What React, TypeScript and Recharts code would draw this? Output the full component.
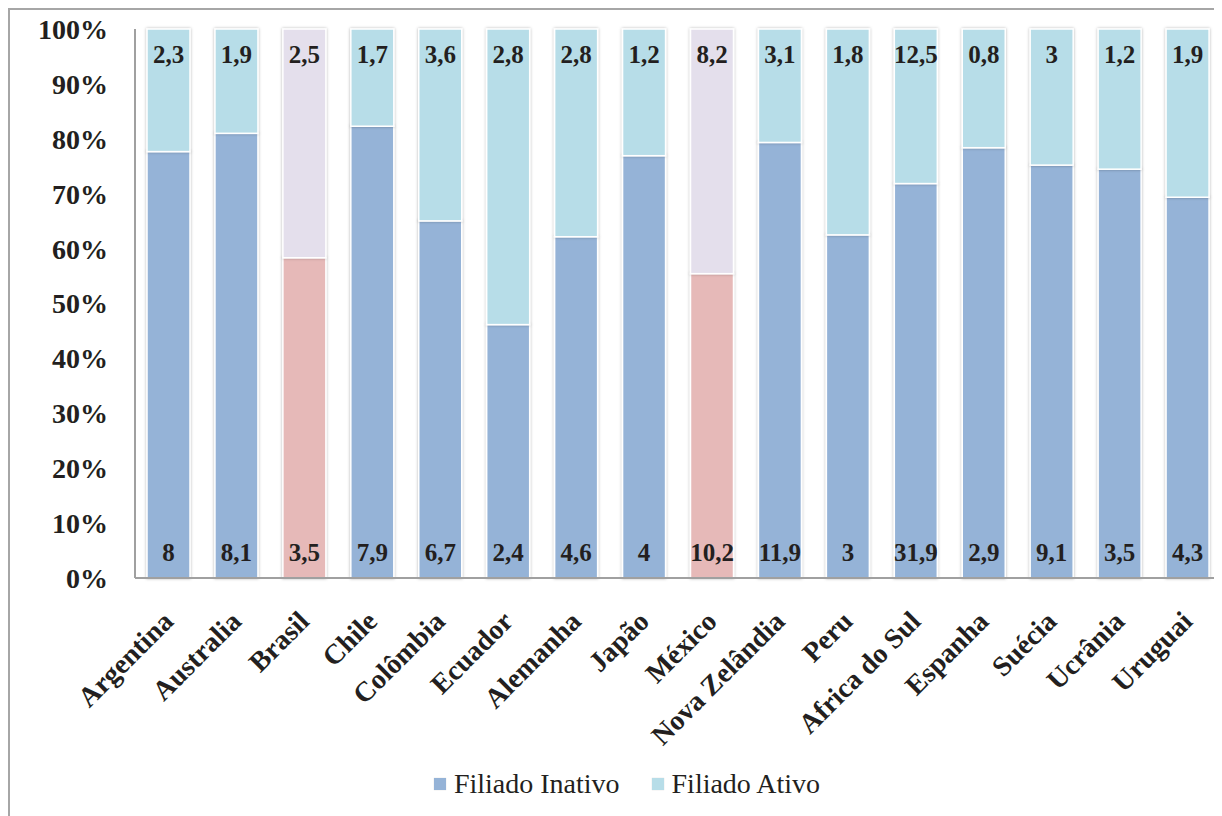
import React from 'react';
import { BarChart, Bar, XAxis, YAxis, Legend, LabelList } from 'recharts';

const categories = ['Argentina', 'Australia', 'Brasil', 'Chile', 'Colômbia', 'Ecuador', 'Alemanha', 'Japão', 'México', 'Nova Zelândia', 'Peru', 'Africa do Sul', 'Espanha', 'Suécia', 'Ucrânia', 'Uruguai'];
const filiadoInativo = [8, 8.1, 3.5, 7.9, 6.7, 2.4, 4.6, 4, 10.2, 11.9, 3, 31.9, 2.9, 9.1, 3.5, 4.3];
const filiadoAtivo = [2.3, 1.9, 2.5, 1.7, 3.6, 2.8, 2.8, 1.2, 8.2, 3.1, 1.8, 12.5, 0.8, 3, 1.2, 1.9];
const highlighted = ['Brasil', 'México'];
const yTicks = [0, 0.1, 0.2, 0.3, 0.4, 0.5, 0.6, 0.7, 0.8, 0.9, 1];

const data = categories.map((name, i) => ({ name, inativo: filiadoInativo[i], ativo: filiadoAtivo[i] }));

const C_INATIVO = '#95B3D7';
const C_ATIVO = '#B7DDE8';
const H_INATIVO = '#E6B9B8';
const H_ATIVO = '#E4DFEC';
const FONT = '"Liberation Serif", "Times New Roman", serif';
const TEXT = '#231f20';

const fmt = (v: number) => String(v).replace('.', ',');

const makeShape = (normal: string, hl: string) => (props: any) => {
  const { x, y, width, height, payload } = props;
  if (!height || height <= 0) return null;
  const fill = highlighted.includes(payload?.name) ? hl : normal;
  return (
    <rect x={x} y={y} width={width} height={height} fill={fill} stroke="#ffffff" strokeWidth={1.5} filter="url(#barShadow)" />
  );
};

const topLabel = (props: any) => {
  const vb = props.viewBox || props;
  const { x, y, width } = vb;
  return (
    <text x={x + width / 2} y={y + 34} textAnchor="middle" fontFamily={FONT} fontWeight="bold" fontSize={25} fill={TEXT}>
      {fmt(props.value)}
    </text>
  );
};

const bottomLabel = (props: any) => {
  const vb = props.viewBox || props;
  const { x, y, width, height } = vb;
  return (
    <text x={x + width / 2} y={y + height - 17} textAnchor="middle" fontFamily={FONT} fontWeight="bold" fontSize={25} fill={TEXT}>
      {fmt(props.value)}
    </text>
  );
};

const CatTick = (props: any) => {
  const { x, y, payload } = props;
  return (
    <g transform={`translate(${x + 6},${y + 37})`}>
      <text x={0} y={0} textAnchor="end" transform="rotate(-45)" fontFamily={FONT} fontWeight="bold" fontSize={28} fill={TEXT}>
        {payload.value}
      </text>
    </g>
  );
};

const LegendContent = () => (
  <div style={{ display: 'flex', justifyContent: 'center', alignItems: 'center', paddingLeft: 22, height: 40, fontFamily: FONT, fontSize: 28, color: TEXT }}>
    <div style={{ display: 'flex', alignItems: 'center', marginRight: 32 }}>
      <span style={{ display: 'inline-block', width: 12, height: 12, background: C_INATIVO, marginRight: 8, boxShadow: '0 0 1px rgba(0,0,0,0.2)' }} />
      <span>Filiado Inativo</span>
    </div>
    <div style={{ display: 'flex', alignItems: 'center' }}>
      <span style={{ display: 'inline-block', width: 12, height: 12, background: C_ATIVO, marginRight: 8, boxShadow: '0 0 1px rgba(0,0,0,0.2)' }} />
      <span>Filiado Ativo</span>
    </div>
  </div>
);

export default function App() {
  return (
    <div style={{ width: 1214, height: 808, borderTop: '2px solid #a6a6a6', borderLeft: '2px solid #a6a6a6', background: '#fff', overflow: 'hidden' }}>
      <BarChart width={1212} height={806} data={data} stackOffset="expand" barSize={43} margin={{ top: 19, right: 0, left: 0, bottom: 12 }}>
        <defs>
          <filter id="barShadow" x="-20%" y="-5%" width="140%" height="110%">
            <feDropShadow dx="0" dy="0" stdDeviation="1.6" floodColor="#000" floodOpacity="0.3" />
          </filter>
        </defs>
        <XAxis dataKey="name" interval={0} height={186} tickLine={false} axisLine={{ stroke: '#a0a0a0', strokeWidth: 2 }} tick={<CatTick />} />
        <YAxis
          width={125}
          domain={[0, 1]}
          ticks={yTicks}
          tickFormatter={(v: number) => `${Math.round(v * 100)}%`}
          tickLine={false}
          tickSize={0}
          tickMargin={27}
          axisLine={{ stroke: '#a0a0a0', strokeWidth: 2 }}
          tick={{ fontFamily: FONT, fontWeight: 'bold', fontSize: 28, fill: TEXT }}
        />
        <Legend verticalAlign="bottom" height={40} content={<LegendContent />} />
        <Bar dataKey="inativo" stackId="a" fill={C_INATIVO} isAnimationActive={false} shape={makeShape(C_INATIVO, H_INATIVO)}>
          <LabelList dataKey="inativo" content={bottomLabel} />
        </Bar>
        <Bar dataKey="ativo" stackId="a" fill={C_ATIVO} isAnimationActive={false} shape={makeShape(C_ATIVO, H_ATIVO)}>
          <LabelList dataKey="ativo" content={topLabel} />
        </Bar>
      </BarChart>
    </div>
  );
}
